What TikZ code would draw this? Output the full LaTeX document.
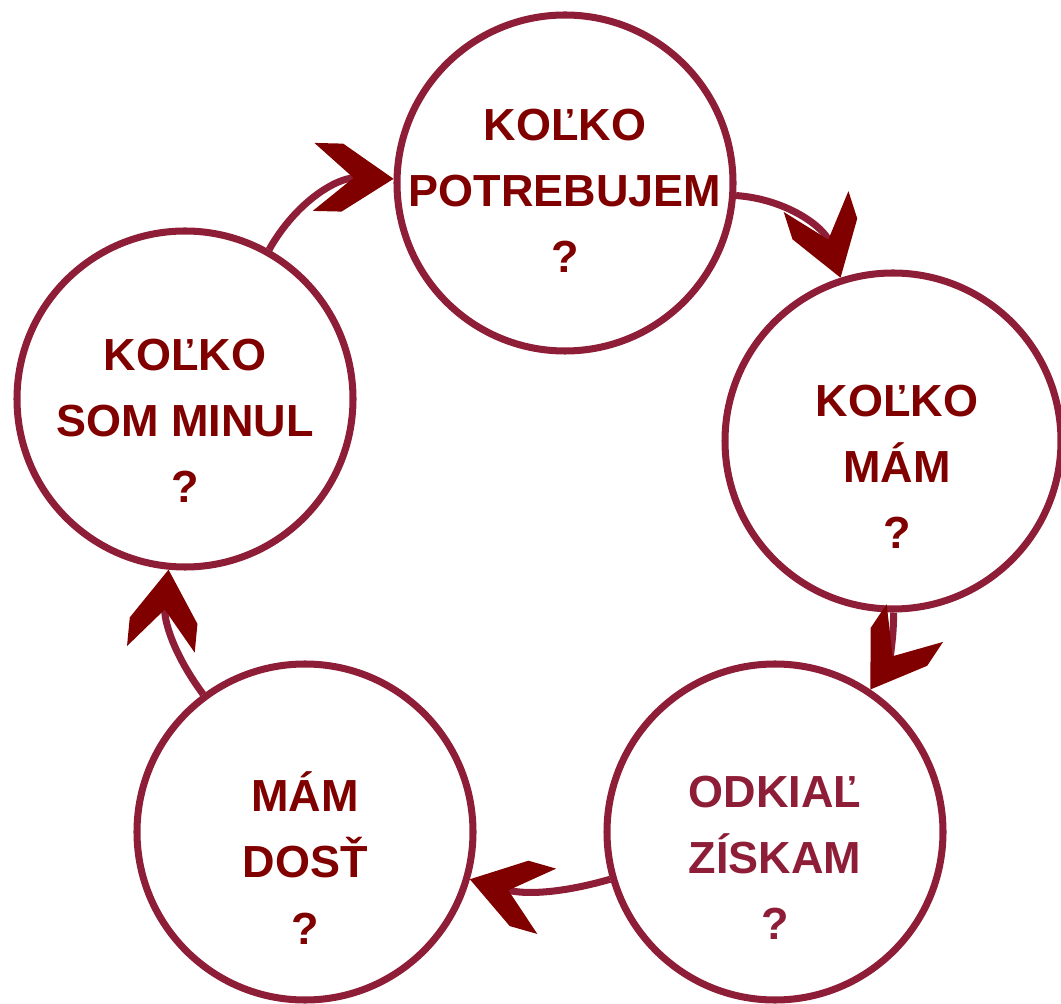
\documentclass[tikz,border=0pt]{standalone}
\usepackage{fontspec}
\setmainfont{Liberation Sans}
\usetikzlibrary{arrows.meta, positioning}

\definecolor{ringred}{RGB}{142,30,55}
\definecolor{textred}{RGB}{128,0,0}

% hrota sipky: hruby zalomeny klin
\pgfdeclarearrow{
  name = Chevron,
  parameters = {\the\pgfarrowlength,\the\pgfarrowwidth},
  setup code = {
    \pgfarrowssettipend{0pt}
    \pgfarrowssetlineend{-0.48\pgfarrowlength}
    \pgfarrowshullpoint{0pt}{0pt}
    \pgfarrowsupperhullpoint{-\pgfarrowlength}{0.5\pgfarrowwidth}
    \pgfarrowssavethe\pgfarrowlength
    \pgfarrowssavethe\pgfarrowwidth
  },
  drawing code = {
    \pgfpathmoveto{\pgfpointorigin}
    \pgfpathlineto{\pgfpoint{-0.64\pgfarrowlength}{0.5\pgfarrowwidth}}
    \pgfpathlineto{\pgfpoint{-\pgfarrowlength}{0.5\pgfarrowwidth}}
    \pgfpathlineto{\pgfpoint{-0.5\pgfarrowlength}{0pt}}
    \pgfpathlineto{\pgfpoint{-\pgfarrowlength}{-0.5\pgfarrowwidth}}
    \pgfpathlineto{\pgfpoint{-0.64\pgfarrowlength}{-0.5\pgfarrowwidth}}
    \pgfpathclose
    \pgfusepathqfill
  },
  defaults = {length=2cm, width=1.7cm}
}

\tikzset{
  ring/.style={circle, draw=ringred, line width=5pt, minimum size=8.4cm, inner sep=0pt},
  qtext/.style={text=textred, font=\bfseries\fontsize{32}{47}\selectfont, align=center},
  cyc/.style={draw=ringred, line width=5pt, -{Chevron[color=textred, quick]}},
}

\begin{document}
\begin{tikzpicture}
\useasboundingbox (0,0) rectangle (26.525,25.075);
% kruhy
\node[ring] (c1) at (14.125,20.5) {};
\node[ring] (c2) at (22.325,14.05) {};
\node[ring] (c3) at (19.375,4.275) {};
\node[ring] (c4) at (7.625,4.275) {};
\node[ring] (c5) at (4.625,15.1) {};

% otazky
\node[qtext] (t1) at ([yshift=-0.2cm]c1) {KOĽKO\\POTREBUJEM\\?};
\node[qtext] (t2) at ([xshift=0.1cm,yshift=-0.65cm]c2) {KOĽKO\\MÁM\\?};
\node[qtext, text=ringred] (t3) at ([yshift=-0.65cm]c3) {ODKIAĽ\\ZÍSKAM\\?};
\node[qtext] (t4) at ([yshift=-0.65cm]c4) {MÁM\\DOSŤ\\?};
\node[qtext] (t5) at ([yshift=-0.55cm]c5) {KOĽKO\\SOM MINUL\\?};

% sipky
\draw[cyc] (c5) to[bend left=31] (c1);
\draw[cyc] (c1) to[bend left=34] (c2);
\draw[cyc] (c2) to[bend left=17] (c3);
\draw[cyc] (c3) to[bend left=16] (c4);
\draw[cyc] (c4) to[bend left=21] (c5);
\end{tikzpicture}
\end{document}
